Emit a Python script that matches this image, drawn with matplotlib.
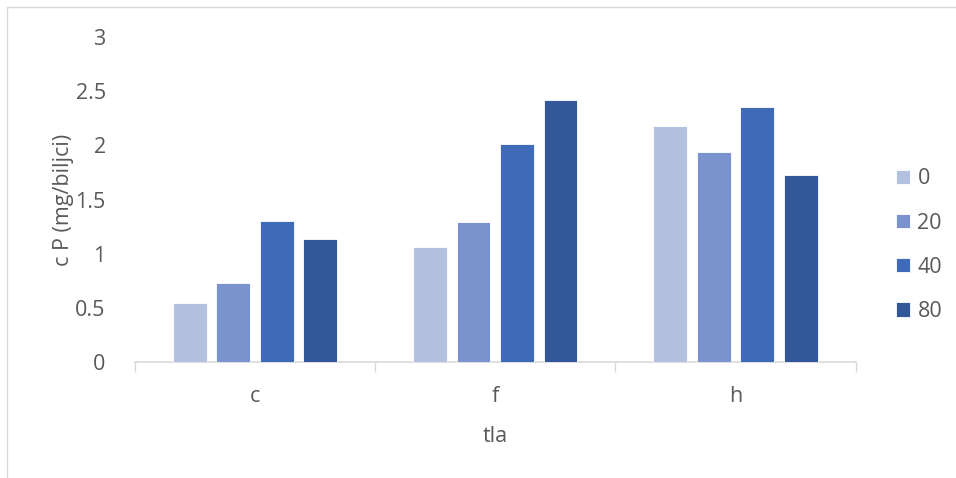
import numpy as np
import matplotlib.pyplot as plt
from matplotlib.patches import Rectangle

# data
categories = ["c", "f", "h"]
series_names = ["0", "20", "40", "80"]
vals_0 = [0.55, 1.06, 2.18]
vals_20 = [0.73, 1.29, 1.94]
vals_40 = [1.30, 2.01, 2.35]
vals_80 = [1.14, 2.42, 1.73]
colors = ["#B4C0E0", "#7A93CF", "#3F6AB7", "#325899"]

plt.rcParams['font.family'] = ['Open Sans', 'DejaVu Sans']
text_color = "#595959"
fs = 15.5

fig = plt.figure(figsize=(9.56, 4.78), dpi=100)
ax = fig.add_axes([0.141, 0.242, 0.754, 0.681])

x = np.arange(len(categories))
pitch = 0.181
bar_w = 0.141
all_vals = [vals_0, vals_20, vals_40, vals_80]
for i, (name, vals) in enumerate(zip(series_names, all_vals)):
    offs = (i - 1.5) * pitch
    ax.bar(x + offs, vals, width=bar_w, color=colors[i], label=name,
           edgecolor="white", linewidth=0.6, zorder=3)

ax.set_xlim(-0.5, 2.5)
ax.set_ylim(0, 3)
ax.set_yticks(np.arange(0, 3.01, 0.5))
ax.set_yticklabels(["0", "0.5", "1", "1.5", "2", "2.5", "3"])
ax.set_xticks(x)
ax.set_xticklabels(categories)

# category separator ticks
ax.set_xticks([-0.5, 0.5, 1.5, 2.5], minor=True)
ax.tick_params(axis='x', which='minor', length=7, color="#D9D9D9", width=1)
ax.tick_params(axis='x', which='major', length=0, pad=17, labelsize=fs, labelcolor=text_color)
ax.tick_params(axis='y', length=0, pad=21, labelsize=fs, labelcolor=text_color)

for s in ["top", "right", "left"]:
    ax.spines[s].set_visible(False)
ax.spines["bottom"].set_color("#D9D9D9")
ax.spines["bottom"].set_linewidth(1.2)

ax.set_ylabel("c P (mg/biljci)", fontsize=fs, color=text_color, labelpad=1)
ax.set_xlabel("tla", fontsize=fs, color=text_color, labelpad=14)

leg = ax.legend(loc="center left", bbox_to_anchor=(1.035, 0.36), frameon=False,
                fontsize=fs, labelcolor=text_color, handlelength=0.65,
                handleheight=0.65, handletextpad=0.35, labelspacing=1.08,
                borderaxespad=0.3)

# outer chart border
fig.patches.append(Rectangle((7 / 956, -0.1), 1.2, 1 - 7 / 478 + 0.1,
                             transform=fig.transFigure, fill=False,
                             edgecolor="#D9D9D9", linewidth=1))

fig.savefig("out.png", dpi=100)
